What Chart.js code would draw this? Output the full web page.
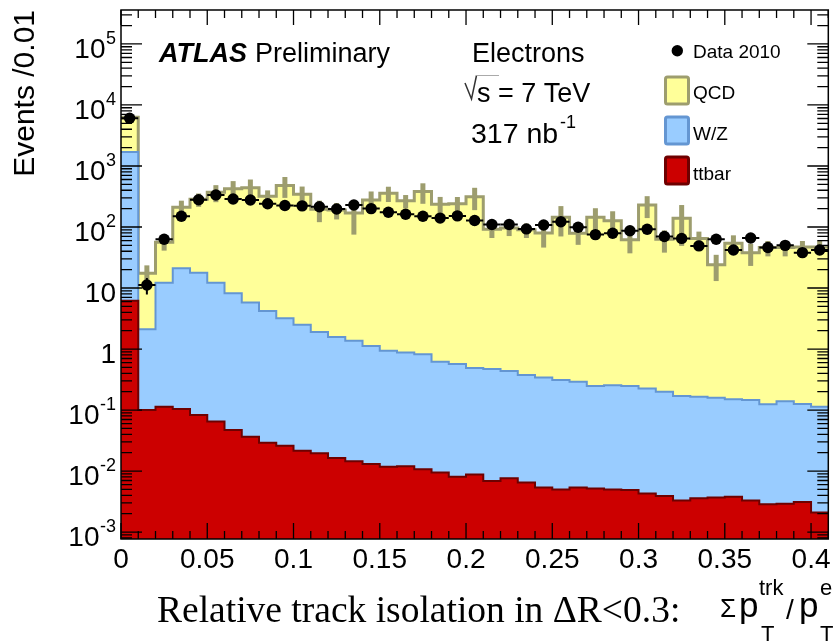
<!DOCTYPE html>
<html>
<head>
<meta charset="utf-8">
<script src="https://cdn.jsdelivr.net/npm/chart.js@4.4.0/dist/chart.umd.min.js"></script>
<style>
  html, body { margin: 0; padding: 0; background: #fff; }
  canvas { display: block; }
</style>
</head>
<body>
<canvas id="chart" width="834" height="641"></canvas>
<script>
// 41 bins of 0.01 in relative track isolation
const binWidth = 0.01;

const data2010 = [6050, 11.2, 63, 150, 280, 335, 288, 277, 241, 225, 222, 215, 197, 229, 200, 174, 162, 150, 140, 152,
  128, 110, 110, 93, 108, 122, 99, 75, 79, 87, 92, 70, 65, 49, 63, 42, 66, 46, 50, 38, 42];
const dataErr = [78, 3.4, 8, 12, 17, 18, 17, 17, 16, 15, 15, 15, 14, 15, 14, 13, 13, 12, 12, 12,
  11, 10.5, 10.5, 9.6, 10.4, 11, 10, 8.6, 8.9, 9.3, 9.6, 8.4, 8.1, 7, 7.9, 6.5, 8.1, 6.8, 7.1, 6.1, 6.5];

// top of each stacked component (QCD on W/Z on ttbar)
const qcdTop = [6300, 17.5, 56, 210, 284, 370, 425, 440, 318, 480, 345, 195, 190, 170, 277, 357, 268, 380, 236, 240,
  314, 92, 96, 90, 80, 145, 79, 145, 126, 62, 230, 63, 139, 65, 24, 54, 38, 46, 46, 47, 47];
const mcErr = [0, 6, 15, 60, 70, 115, 140, 160, 80, 180, 115, 75, 57, 95, 105, 100, 66, 140, 75, 70,
  125, 26, 25, 24, 34, 75, 28, 58, 55, 25, 90, 25, 90, 19, 11, 19, 15, 13, 13, 12, 12];
const wzTop = [1700, 2.1, 12.2, 21, 17.8, 12.2, 8.2, 5.8, 4.2, 3.2, 2.5, 1.9, 1.57, 1.37, 1.12, 0.94, 0.88, 0.82, 0.62, 0.57,
  0.49, 0.47, 0.435, 0.375, 0.34, 0.31, 0.29, 0.247, 0.254, 0.247, 0.226, 0.2, 0.17, 0.165, 0.159, 0.15, 0.146, 0.124, 0.14, 0.126, 0.113];
const ttbar = [6.2, 0.1, 0.113, 0.104, 0.083, 0.065, 0.047, 0.0365, 0.029, 0.026, 0.0215, 0.0195, 0.0163, 0.0145, 0.0131, 0.0118, 0.012, 0.0107, 0.0095, 0.0081,
  0.0088, 0.0069, 0.0076, 0.0065, 0.0054, 0.005, 0.0054, 0.0052, 0.005, 0.0049, 0.0043, 0.0039, 0.0033, 0.0036, 0.0037, 0.0038, 0.0033, 0.00285, 0.0029, 0.0031, 0.0021];

const xTicks = [0, 0.05, 0.1, 0.15, 0.2, 0.25, 0.3, 0.35, 0.4];
const xTickLabels = ['0', '0.05', '0.1', '0.15', '0.2', '0.25', '0.3', '0.35', '0.4'];
const yTicks = [1e-3, 1e-2, 1e-1, 1, 10, 1e2, 1e3, 1e4, 1e5];
const yTickLabels = [['10', '-3'], ['10', '-2'], ['10', '-1'], ['1', ''], ['10', ''], ['10', '2'], ['10', '3'], ['10', '4'], ['10', '5']];

const edges = Array.from({length: ttbar.length + 1}, (_, i) => +(i * binWidth).toFixed(2));
const centers = ttbar.map((_, i) => +((i + 0.5) * binWidth).toFixed(3));

function steps(values) {
  return edges.map((x, i) => ({x: x, y: values[Math.min(i, values.length - 1)]}));
}

const SANS = '"Liberation Sans", Arial, Helvetica, sans-serif';
const SERIF = '"Liberation Serif", "Times New Roman", serif';
const OLIVE = 'rgb(157,157,110)';

function txt(ctx, s, x, y, font, align) {
  ctx.font = font;
  ctx.textAlign = align || 'left';
  ctx.textBaseline = 'alphabetic';
  ctx.fillText(s, x, y);
}

const errorBars = {
  id: 'errorBars',
  afterDatasetDraw(chart, args) {
    if (args.index !== 1) return;
    const {ctx, scales: {x, y}} = chart;
    ctx.save();
    // MC uncertainty
    ctx.strokeStyle = OLIVE;
    ctx.lineWidth = 5;
    qcdTop.forEach((v, i) => {
      if (!mcErr[i]) return;
      const px = x.getPixelForValue(centers[i]);
      ctx.beginPath();
      ctx.moveTo(px, y.getPixelForValue(Math.max(v - mcErr[i], 1e-3)));
      ctx.lineTo(px, y.getPixelForValue(v + mcErr[i]));
      ctx.stroke();
    });
    // data bars
    ctx.strokeStyle = '#000';
    ctx.lineWidth = 2;
    data2010.forEach((v, i) => {
      const py = y.getPixelForValue(v);
      const px = x.getPixelForValue(centers[i]);
      ctx.beginPath();
      ctx.moveTo(x.getPixelForValue(edges[i]), py);
      ctx.lineTo(x.getPixelForValue(edges[i + 1]), py);
      ctx.moveTo(px, y.getPixelForValue(v - dataErr[i]));
      ctx.lineTo(px, y.getPixelForValue(v + dataErr[i]));
      ctx.stroke();
    });
    ctx.restore();
  },
  afterDraw(chart) {
    const {ctx, chartArea: a, scales: {x, y}} = chart;
    ctx.save();
    ctx.fillStyle = '#000';
    ctx.strokeStyle = '#000';

    // frame
    ctx.lineWidth = 1.5;
    ctx.strokeRect(a.left, a.top, a.right - a.left, a.bottom - a.top);

    // x ticks, top and bottom
    ctx.lineWidth = 1.3;
    ctx.beginPath();
    edges.forEach((e, i) => {
      const px = x.getPixelForValue(e);
      const major = i % 5 === 0;
      ctx.moveTo(px, a.bottom);
      ctx.lineTo(px, a.bottom - (major ? 16 : 8));
      ctx.moveTo(px, a.top);
      ctx.lineTo(px, a.top + (major ? 15 : 8));
    });
    // y ticks, left and right
    for (let d = -4; d <= 5; d++) {
      for (let k = 1; k <= 9; k++) {
        const v = k * Math.pow(10, d);
        if (v < y.min || v > y.max) continue;
        const py = y.getPixelForValue(v);
        const len = k === 1 ? 21 : 11;
        ctx.moveTo(a.left, py);
        ctx.lineTo(a.left + len, py);
        ctx.moveTo(a.right, py);
        ctx.lineTo(a.right - len, py);
      }
    }
    ctx.stroke();

    // tick labels
    xTicks.forEach((t, i) => {
      txt(ctx, xTickLabels[i], x.getPixelForValue(t), 568, '28px ' + SANS, 'center');
    });
    yTicks.forEach((t, i) => {
      const py = y.getPixelForValue(t);
      const [b, e] = yTickLabels[i];
      let right = 116;
      if (e) {
        ctx.font = '18px ' + SANS;
        const w = ctx.measureText(e).width;
        txt(ctx, e, right, py, '18px ' + SANS, 'right');
        right -= w + 0.5;
      }
      txt(ctx, b, right, py + 14, '28px ' + SANS, 'right');
    });

    // axis titles
    ctx.save();
    ctx.translate(33.5, a.top);
    ctx.rotate(-Math.PI / 2);
    txt(ctx, 'Events /0.01', 0, 0, '30px ' + SANS, 'right');
    ctx.restore();
    txt(ctx, 'Relative track isolation in \u0394R<0.3:', 157, 621.5, '37.5px ' + SERIF);
    txt(ctx, '\u03A3', 720, 617, '26px ' + SANS);
    txt(ctx, 'p', 739, 617, '35px ' + SANS);
    txt(ctx, 'trk', 759, 595, '22px ' + SANS);
    txt(ctx, 'T', 761, 641, '22px ' + SANS);
    txt(ctx, '/', 786, 619, '28px ' + SANS);
    txt(ctx, 'p', 799, 617, '35px ' + SANS);
    txt(ctx, 'e', 820, 595, '22px ' + SANS);
    txt(ctx, 'T', 820, 641, '22px ' + SANS);

    // labels inside the frame
    txt(ctx, 'ATLAS', 159, 62, 'italic bold 27px ' + SANS);
    txt(ctx, 'Preliminary', 255, 62, '27px ' + SANS);
    txt(ctx, 'Electrons', 472, 62, '27px ' + SANS);
    ctx.lineWidth = 1.5;
    ctx.strokeStyle = '#333';
    ctx.beginPath();
    ctx.moveTo(465, 83);
    ctx.lineTo(471.5, 99);
    ctx.lineTo(476.5, 75.5);
    ctx.stroke();
    ctx.lineWidth = 1;
    ctx.strokeStyle = '#aaa';
    ctx.beginPath();
    ctx.moveTo(476.5, 75.5);
    ctx.lineTo(499, 75.5);
    ctx.stroke();
    txt(ctx, 's = 7 TeV', 477, 101.5, '27px ' + SANS);
    txt(ctx, '317 nb', 471, 143, '28.5px ' + SANS);
    txt(ctx, '-1', 560, 128, '18px ' + SANS);

    // legend
    ctx.beginPath();
    ctx.arc(677.3, 50.7, 5.7, 0, Math.PI * 2);
    ctx.fill();
    txt(ctx, 'Data 2010', 693, 57.5, '19px ' + SANS);
    const boxes = [
      ['QCD', 'rgb(255,255,153)', OLIVE, 77, 98.5],
      ['W/Z', 'rgb(153,204,255)', 'rgb(100,150,210)', 117, 139.5],
      ['ttbar', 'rgb(204,0,0)', 'rgb(110,0,0)', 157, 180]
    ];
    boxes.forEach(([label, fill, edge, top, base]) => {
      ctx.fillStyle = fill;
      ctx.strokeStyle = edge;
      ctx.lineWidth = 3;
      ctx.beginPath();
      ctx.roundRect(665.5, top, 23, 27, 2);
      ctx.fill();
      ctx.stroke();
      ctx.fillStyle = '#000';
      txt(ctx, label, 693, base, '19px ' + SANS);
    });
    ctx.restore();
  }
};

new Chart(document.getElementById('chart'), {
  type: 'line',
  data: {
    datasets: [
      {
        label: 'Data 2010',
        data: centers.map((c, i) => ({x: c, y: data2010[i]})),
        showLine: false,
        pointRadius: 5.7,
        pointBorderWidth: 0,
        pointBackgroundColor: '#000',
        order: 0
      },
      {
        label: 'ttbar',
        data: steps(ttbar),
        stepped: 'before',
        fill: 'start',
        backgroundColor: 'rgb(204,0,0)',
        borderColor: 'rgb(110,0,0)',
        borderWidth: 2,
        pointRadius: 0,
        order: 1
      },
      {
        label: 'W/Z',
        data: steps(wzTop),
        stepped: 'before',
        fill: 'start',
        backgroundColor: 'rgb(153,204,255)',
        borderColor: 'rgb(100,150,210)',
        borderWidth: 2,
        pointRadius: 0,
        order: 2
      },
      {
        label: 'QCD',
        data: steps(qcdTop),
        stepped: 'before',
        fill: 'start',
        backgroundColor: 'rgb(255,255,153)',
        borderColor: OLIVE,
        borderWidth: 3,
        pointRadius: 0,
        order: 3
      }
    ]
  },
  options: {
    responsive: false,
    animation: false,
    layout: {padding: {left: 121, top: 10, right: 4, bottom: 102}},
    plugins: {legend: {display: false}, tooltip: {enabled: false}},
    scales: {
      x: {type: 'linear', min: 0, max: 0.41, bounds: 'data', display: false},
      y: {type: 'logarithmic', min: 7.7e-4, max: 3.6e5, bounds: 'data', display: false}
    }
  },
  plugins: [errorBars]
});
</script>
</body>
</html>
